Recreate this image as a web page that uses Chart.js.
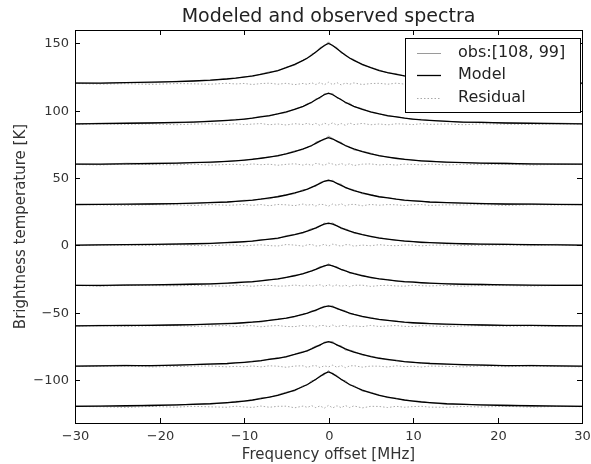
<!DOCTYPE html>
<html>
<head>
<meta charset="utf-8">
<script src="https://cdn.jsdelivr.net/npm/chart.js@4.4.0/dist/chart.umd.min.js"></script>
<style>
    html, body { margin: 0; padding: 0; background: #fff; }
    #wrap { width: 591px; height: 464px; }
</style>
</head>
<body>
<div id="wrap"><canvas id="spectraChart" width="591" height="464"></canvas></div>
<script>
// Frequency channels [MHz]
const freqs = [-30, -27, -24, -21, -18, -16, -14, -12, -11, -10, -9, -8, -7, -6, -5, -4, -3, -2.5, -2, -1.5, -1, -0.5, 0,
               0.5, 1, 1.5, 2, 2.5, 3, 4, 5, 6, 7, 8, 9, 10, 11, 12, 14, 16, 18, 21, 24, 27, 30];

// Vertical offset of each spectrum [K]
const offsets = [120, 90, 60, 30, 0, -30, -60, -90, -120];

// Model spectra [K]
const model1 = [0.5,0.6,0.9,1.2,1.7,2.1,2.7,3.6,4.2,5.0,5.9,7.1,8.4,9.9,12.0,14.4,17.4,19.2,21.3,23.7,26.1,28.5,30,28.5,26.1,23.7,21.3,19.2,17.4,14.4,12.0,9.9,8.4,7.1,5.9,5.0,4.2,3.6,2.7,2.1,1.7,1.2,0.9,0.6,0.5];
const model2 = [0.3,0.5,0.7,0.9,1.3,1.6,2.1,2.8,3.2,3.8,4.5,5.4,6.4,7.6,9.2,11.0,13.3,14.7,16.3,18.2,20.0,21.9,23,21.9,20.0,18.2,16.3,14.7,13.3,11.0,9.2,7.6,6.4,5.4,4.5,3.8,3.2,2.8,2.1,1.6,1.3,0.9,0.7,0.5,0.3];
const model3 = [0.3,0.4,0.6,0.8,1.1,1.4,1.8,2.4,2.8,3.3,3.9,4.7,5.6,6.6,8.0,9.6,11.6,12.8,14.2,15.8,17.4,19.0,20,19.0,17.4,15.8,14.2,12.8,11.6,9.6,8.0,6.6,5.6,4.7,3.9,3.3,2.8,2.4,1.8,1.4,1.1,0.8,0.6,0.4,0.3];
const model4 = [0.3,0.4,0.6,0.7,1.0,1.3,1.7,2.2,2.6,3.1,3.6,4.3,5.2,6.1,7.4,8.9,10.7,11.8,13.1,14.6,16.1,17.6,18.5,17.6,16.1,14.6,13.1,11.8,10.7,8.9,7.4,6.1,5.2,4.3,3.6,3.1,2.6,2.2,1.7,1.3,1.0,0.7,0.6,0.4,0.3];
const model5 = [0.2,0.3,0.5,0.7,0.9,1.2,1.5,2.0,2.3,2.7,3.2,3.9,4.6,5.4,6.6,7.9,9.6,10.6,11.7,13.0,14.4,15.7,16.5,15.7,14.4,13.0,11.7,10.6,9.6,7.9,6.6,5.4,4.6,3.9,3.2,2.7,2.3,2.0,1.5,1.2,0.9,0.7,0.5,0.3,0.2];
const model6 = [0.2,0.3,0.5,0.6,0.9,1.1,1.4,1.9,2.2,2.6,3.0,3.6,4.3,5.1,6.2,7.4,9.0,9.9,11.0,12.2,13.5,14.7,15.5,14.7,13.5,12.2,11.0,9.9,9.0,7.4,6.2,5.1,4.3,3.6,3.0,2.6,2.2,1.9,1.4,1.1,0.9,0.6,0.5,0.3,0.2];
const model7 = [0.2,0.3,0.5,0.6,0.8,1.1,1.4,1.8,2.1,2.5,2.9,3.5,4.2,5.0,6.0,7.2,8.7,9.6,10.7,11.9,13.1,14.3,15,14.3,13.1,11.9,10.7,9.6,8.7,7.2,6.0,5.0,4.2,3.5,2.9,2.5,2.1,1.8,1.4,1.1,0.8,0.6,0.5,0.3,0.2];
const model8 = [0.3,0.4,0.6,0.7,1.0,1.3,1.7,2.2,2.6,3.1,3.6,4.3,5.2,6.1,7.4,8.9,10.7,11.8,13.1,14.6,16.1,17.6,18.5,17.6,16.1,14.6,13.1,11.8,10.7,8.9,7.4,6.1,5.2,4.3,3.6,3.1,2.6,2.2,1.7,1.3,1.0,0.7,0.6,0.4,0.3];
const model9 = [0.4,0.5,0.8,1.0,1.4,1.8,2.3,3.1,3.6,4.3,5.1,6.1,7.3,8.6,10.4,12.5,15.1,16.6,18.5,20.5,22.6,24.7,26,24.7,22.6,20.5,18.5,16.6,15.1,12.5,10.4,8.6,7.3,6.1,5.1,4.3,3.6,3.1,2.3,1.8,1.4,1.0,0.8,0.5,0.4];

// Residuals (observed - model) [K]
const resid1 = [0.3,-0.2,0.1,-0.4,0.2, 0.0,-0.3,0.4,-0.1,0.3, -0.5,0.2,0.5,-0.3,0.4, -0.6,0.3,-0.4,0.8,-0.5, 0.9,-0.7,1.2,-0.6,0.9, -0.8,0.6,-0.3,0.7,-0.5, 0.2,0.4,-0.3,0.5,-0.2, 0.1,-0.4,0.3,0.0,-0.2, 0.4,-0.3,0.1,0.2,-0.1];
const resid2 = [-0.2,0.3,-0.1,0.2,-0.4, 0.1,0.3,-0.2,0.4,-0.3, 0.1,0.5,-0.4,0.2,-0.6, 0.4,-0.2,0.7,-0.5,0.6, -0.9,0.8,-0.4,1.0,-0.7, 0.5,-0.8,0.9,-0.3,0.6, -0.4,0.2,-0.5,0.3,0.1, -0.3,0.4,-0.1,0.2,-0.4, 0.3,0.0,-0.2,0.3,0.1];
const resid3 = [0.1,-0.3,0.4,0.0,-0.2, 0.3,-0.4,0.1,0.2,-0.3, 0.5,-0.1,0.3,-0.5,0.2, 0.6,-0.4,0.5,-0.7,0.9, 0.3,-0.6,1.1,0.4,-0.5, 0.8,-0.4,0.6,-0.7,0.3, 0.5,-0.3,0.2,-0.4,0.3, 0.1,-0.2,0.4,-0.3,0.2, -0.1,0.3,-0.4,0.2,0.0];
const resid4 = [0.4,0.0,-0.3,0.2,0.1, -0.4,0.3,-0.2,0.0,0.4, -0.3,0.3,-0.6,0.4,0.1, -0.5,0.7,-0.3,0.5,-0.8, 0.6,0.2,-0.9,0.7,-0.4, 0.9,-0.6,0.3,0.5,-0.6, 0.4,-0.2,0.3,0.1,-0.4, 0.2,0.3,-0.3,0.1,0.0, 0.3,-0.4,0.2,-0.1,0.3];
const resid5 = [-0.3,0.2,0.1,-0.2,0.4, -0.1,-0.3,0.3,0.2,-0.4, 0.1,0.4,-0.2,-0.5,0.6, 0.2,-0.6,0.4,0.7,-0.5, -0.3,0.8,-0.6,0.9,0.2, -0.7,0.5,0.4,-0.6,0.2, -0.3,0.5,-0.1,-0.3,0.3, 0.2,-0.4,0.1,0.3,-0.2, 0.0,0.2,-0.3,0.4,-0.2];
const resid6 = [0.2,-0.4,0.3,0.1,-0.1, 0.3,-0.2,-0.3,0.4,0.1, -0.4,0.2,0.3,-0.3,-0.2, 0.5,-0.3,0.6,-0.4,0.2, 0.7,-0.6,0.8,-0.3,0.6, -0.5,0.4,-0.7,0.3,0.4, -0.5,0.1,0.3,-0.2,-0.3, 0.4,0.0,-0.2,0.3,-0.4, 0.2,0.1,-0.3,0.2,0.3];
const resid7 = [0.0,0.3,-0.3,0.2,0.3, -0.2,0.1,0.4,-0.4,0.2, 0.3,-0.5,0.1,0.4,-0.3, -0.4,0.5,-0.2,0.6,-0.7, 0.4,0.5,-0.6,0.8,-0.5, 0.3,0.6,-0.5,0.2,-0.4, 0.5,-0.3,0.1,0.4,-0.2, -0.3,0.3,0.2,-0.4,0.1, 0.3,-0.2,0.0,-0.3,0.2];
const resid8 = [-0.1,0.2,0.4,-0.3,0.0, 0.2,0.4,-0.3,0.1,-0.2, 0.4,-0.3,0.5,0.2,-0.6, 0.3,0.5,-0.7,0.4,0.6, -0.8,0.5,-0.3,1.0,-0.6, 0.7,-0.9,0.4,0.6,-0.5, 0.3,0.2,-0.4,0.5,-0.1, 0.2,-0.4,0.3,0.1,-0.3, 0.4,-0.2,0.3,0.0,-0.3];
const resid9 = [0.3,0.1,-0.4,0.3,-0.2, 0.4,0.0,-0.3,0.5,-0.1, -0.4,0.6,-0.3,0.4,0.5, -0.7,0.6,-0.4,0.9,-0.6, 0.7,-1.0,1.1,-0.8,0.8, -0.6,1.0,-0.5,0.7,-0.8, 0.4,0.3,-0.5,0.4,-0.3, 0.2,0.4,-0.2,-0.3,0.3, -0.1,0.4,-0.2,0.3,0.1];

const modelSpectra = [model1, model2, model3, model4, model5, model6, model7, model8, model9];
const residSpectra = [resid1, resid2, resid3, resid4, resid5, resid6, resid7, resid8, resid9];

// Axis ticks
const xTicks = [-30, -20, -10, 0, 10, 20, 30];
const yTicks = [-100, -50, 0, 50, 100, 150];

const FONT = "'DejaVu Sans', sans-serif";
const TEXT_COLOR = '#333';

const obsStyle = { color: '#9a9a9a', width: 1, dash: [] };
const modelStyle = { color: '#000', width: 1.3, dash: [] };
const residStyle = { color: '#a8a8a8', width: 1, dash: [1.5, 2] };

function toPoints(values, offset) {
    return freqs.map((f, i) => ({ x: f, y: values[i] + offset }));
}

function buildDatasets() {
    const model = [], obs = [], resid = [];
    offsets.forEach((off, k) => {
        model.push({
            label: 'Model', data: toPoints(modelSpectra[k], off),
            borderColor: modelStyle.color, borderWidth: modelStyle.width
        });
        // observed = model + residual
        const o = modelSpectra[k].map((v, i) => v + residSpectra[k][i]);
        obs.push({
            label: 'obs:[108, 99]', data: toPoints(o, off),
            borderColor: obsStyle.color, borderWidth: obsStyle.width
        });
        resid.push({
            label: 'Residual', data: toPoints(residSpectra[k], off),
            borderColor: residStyle.color, borderWidth: residStyle.width,
            borderDash: residStyle.dash
        });
    });
    // first dataset is painted on top
    return model.concat(obs, resid);
}

// Frame, inward ticks, labels, title and legend (matplotlib look)
const axesPlugin = {
    id: 'axesPlugin',
    afterDraw(chart) {
        const ctx = chart.ctx;
        const a = chart.chartArea;
        const xs = chart.scales.x, ys = chart.scales.y;
        ctx.save();

        ctx.strokeStyle = '#000';
        ctx.lineWidth = 1;
        ctx.strokeRect(Math.round(a.left) + 0.5, Math.round(a.top) + 0.5,
                       Math.round(a.right - a.left), Math.round(a.bottom - a.top));

        const tl = 5;
        ctx.fillStyle = TEXT_COLOR;
        ctx.font = '13px ' + FONT;
        ctx.textAlign = 'center';
        ctx.textBaseline = 'top';
        xTicks.forEach(v => {
            const px = Math.round(xs.getPixelForValue(v)) + 0.5;
            ctx.beginPath();
            ctx.moveTo(px, a.bottom); ctx.lineTo(px, a.bottom - tl);
            ctx.moveTo(px, a.top); ctx.lineTo(px, a.top + tl);
            ctx.stroke();
            ctx.fillText(v < 0 ? '\u2212' + Math.abs(v) : String(v), px, a.bottom + 7);
        });
        ctx.textAlign = 'right';
        ctx.textBaseline = 'middle';
        yTicks.forEach(v => {
            const py = Math.round(ys.getPixelForValue(v)) + 0.5;
            ctx.beginPath();
            ctx.moveTo(a.left, py); ctx.lineTo(a.left + tl, py);
            ctx.moveTo(a.right, py); ctx.lineTo(a.right - tl, py);
            ctx.stroke();
            ctx.fillText(v < 0 ? '\u2212' + Math.abs(v) : String(v), a.left - 6, py);
        });

        // axis titles
        ctx.font = '15px ' + FONT;
        ctx.textAlign = 'center';
        ctx.fillText('Frequency offset [MHz]', (a.left + a.right) / 2, 455);
        ctx.save();
        ctx.translate(21, (a.top + a.bottom) / 2);
        ctx.rotate(-Math.PI / 2);
        ctx.fillText('Brightness temperature [K]', 0, 0);
        ctx.restore();

        // title
        ctx.font = '19px ' + FONT;
        ctx.fillStyle = '#222';
        ctx.fillText('Modeled and observed spectra', (a.left + a.right) / 2, 17);

        // legend
        const box = { x: 405.5, y: 38.5, w: 175, h: 74 };
        ctx.fillStyle = '#fff';
        ctx.fillRect(box.x, box.y, box.w, box.h);
        ctx.strokeStyle = '#000';
        ctx.lineWidth = 1;
        ctx.strokeRect(box.x, box.y, box.w, box.h);
        const entries = [
            ['obs:[108, 99]', obsStyle, 53],
            ['Model', modelStyle, 75],
            ['Residual', residStyle, 98]
        ];
        ctx.font = '16px ' + FONT;
        ctx.textAlign = 'left';
        entries.forEach(([label, st, y]) => {
            ctx.beginPath();
            ctx.strokeStyle = st.color;
            ctx.lineWidth = st.width;
            ctx.setLineDash(st.dash);
            ctx.moveTo(417, y + 0.5); ctx.lineTo(441, y + 0.5);
            ctx.stroke();
            ctx.setLineDash([]);
            ctx.fillStyle = '#222';
            ctx.fillText(label, 458, y);
        });

        ctx.restore();
    }
};

document.addEventListener('DOMContentLoaded', function() {
    initChart();
});

function initChart() {
    const ctx = document.getElementById('spectraChart').getContext('2d');
    new Chart(ctx, {
        type: 'line',
        data: { datasets: buildDatasets() },
        options: {
            responsive: false,
            animation: false,
            devicePixelRatio: 1,
            layout: { padding: { left: 75, right: 9, top: 30, bottom: 41 } },
            elements: {
                point: { radius: 0 },
                line: { tension: 0, fill: false }
            },
            plugins: {
                legend: { display: false },
                tooltip: { enabled: false },
                title: { display: false }
            },
            scales: {
                x: { type: 'linear', min: -30, max: 30, display: false },
                y: { type: 'linear', min: -132, max: 160, display: false }
            }
        },
        plugins: [axesPlugin]
    });
}
</script>
</body>
</html>
